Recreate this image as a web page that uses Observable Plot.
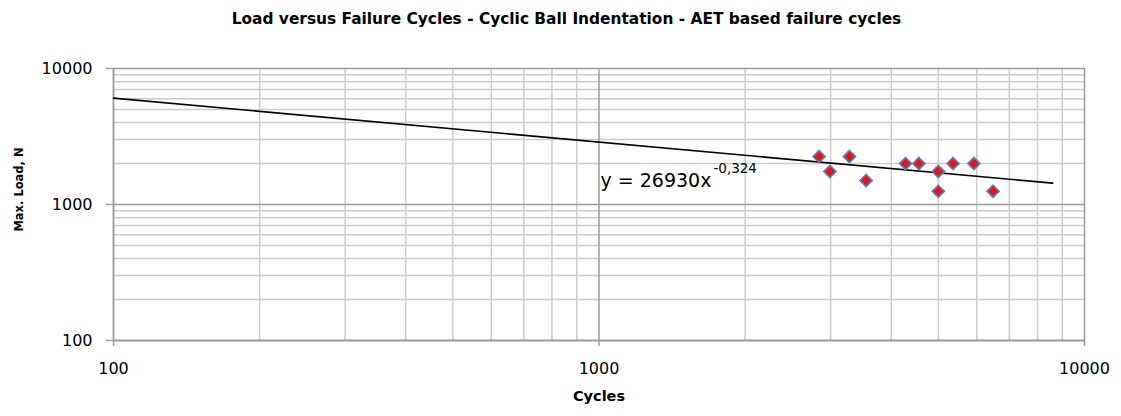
<!DOCTYPE html>
<html>
<head>
<meta charset="utf-8">
<script src="https://cdn.jsdelivr.net/npm/d3@7"></script>
<script src="https://cdn.jsdelivr.net/npm/@observablehq/plot@0.6"></script>
<style>
  html, body { margin: 0; padding: 0; background: #fff; }
  #title { width: 1121px; height: 40px; box-sizing: border-box; padding-top: 10px;
           text-align: center; position: relative; left: 6px;
           font-family: "DejaVu Sans", sans-serif; font-weight: bold; font-size: 15.4px; color: #000; white-space: nowrap; }
</style>
</head>
<body>
<div id="title">Load versus Failure Cycles - Cyclic Ball Indentation - AET based failure cycles</div>
<div id="chart"></div>
<script>
// Measured points
const cycles = [2840, 2990, 3280, 3550, 4280, 4560, 5000, 5000, 5360, 5920, 6480];
const loads  = [2250, 1750, 2250, 1500, 2000, 2000, 1750, 1250, 2000, 2000, 1250];
// Power trendline endpoints (as drawn)
const trendCycles = [100, 8600];
const trendLoads  = [6057, 1435];
// Axis ticks
const majorTicks = [100, 1000, 10000];
const minorX = [200,300,400,500,600,700,800,900,2000,3000,4000,5000,6000,7000,8000,9000];
const minorY = [200,300,400,500,600,700,800,900,2000,3000,4000,5000,6000,7000,8000,9000];
const equation = "y = 26930x";
const exponent = "-0,324";

const points = cycles.map((c, i) => ({c, l: loads[i]}));
const trend = trendCycles.map((c, i) => ({c, l: trendLoads[i]}));

const font = '"DejaVu Sans", sans-serif';
const plot = Plot.plot({
  width: 1121,
  height: 376,
  marginLeft: 113,
  marginRight: 37,
  marginTop: 28,
  marginBottom: 76,
  style: {fontFamily: font, fontSize: "16px", color: "#000", background: "#fff"},
  x: {type: "log", domain: [100, 10000]},
  y: {type: "log", domain: [100, 10000]},
  marks: [
    Plot.ruleX(minorX, {stroke: "#cccccc", strokeWidth: 1.5}),
    Plot.ruleY(minorY, {stroke: "#cccccc", strokeWidth: 1.5}),
    Plot.ruleX([1000, 10000], {stroke: "#9a9a9a", strokeWidth: 1.5}),
    Plot.ruleY([1000, 10000], {stroke: "#9a9a9a", strokeWidth: 1.5}),
    Plot.ruleX([100], {stroke: "#9a9a9a", strokeWidth: 1.8}),
    Plot.ruleY([100], {stroke: "#9a9a9a", strokeWidth: 1.8}),
    Plot.axisX(majorTicks, {tickFormat: d => String(d), tickSize: 6, tickPadding: 16, stroke: "#9a9a9a", strokeWidth: 1.5, fontSize: 16, label: null}),
    Plot.axisY(majorTicks, {tickFormat: d => String(d), tickSize: 7, tickPadding: 14, stroke: "#9a9a9a", strokeWidth: 1.5, fontSize: 16, label: null}),
    Plot.line(trend, {x: "c", y: "l", stroke: "#000", strokeWidth: 1.6}),
    Plot.dot(points, {x: "c", y: "l", symbol: "diamond2", r: 5.5, fill: "#e8121a", stroke: "#5b7fbf", strokeWidth: 1.6}),
    Plot.text([equation], {frameAnchor: "top-left", dx: 487, dy: 112, text: d => d, fontSize: 19, textAnchor: "start", lineAnchor: "middle"}),
    Plot.text(["Max. Load, N"], {frameAnchor: "left", dx: -94, dy: -15, rotate: -90, text: d => d, fontSize: 11.5, fontWeight: "bold", textAnchor: "middle", lineAnchor: "middle"}),
    Plot.text(["Cycles"], {frameAnchor: "bottom", dy: 56, text: d => d, fontSize: 14.5, fontWeight: "bold", textAnchor: "middle", lineAnchor: "middle"})
  ]
});
document.getElementById("chart").appendChild(plot);

// superscript exponent appended to the equation text
const eqNode = d3.select(plot).selectAll("text").filter(function() { return this.textContent === equation; }).node();
if (eqNode) {
  const ts = document.createElementNS("http://www.w3.org/2000/svg", "tspan");
  ts.setAttribute("font-size", "13.5");
  ts.setAttribute("dy", "-14");
  ts.setAttribute("dx", "2");
  ts.textContent = exponent;
  eqNode.appendChild(ts);
}
</script>
</body>
</html>
